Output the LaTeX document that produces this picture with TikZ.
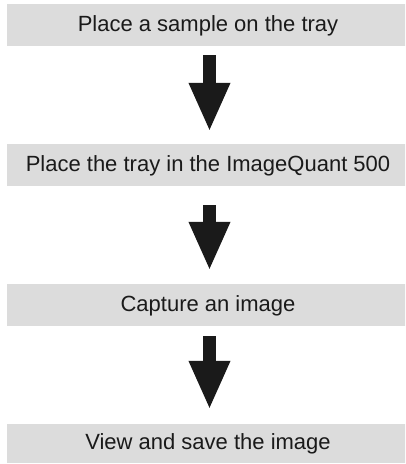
\documentclass[tikz,border=0pt]{standalone}
\usepackage{fontspec}
\setmainfont{Liberation Sans}
\usetikzlibrary{arrows.meta}
\definecolor{boxgrey}{HTML}{DCDCDC}
\definecolor{ink}{HTML}{1A1A1A}
\tikzset{
  stepbox/.style={fill=boxgrey, draw=none, inner sep=0pt, minimum width=402pt,
    text height=27pt, text depth=15pt, align=center, text=ink,
    font=\fontsize{22pt}{24pt}\selectfont},
  flowarrow/.style={draw=ink, line width=13pt,
    -{Triangle[width=38pt, length=49pt]}, shorten <=0pt}
}
\begin{document}
\begin{tikzpicture}[x=1pt,y=-1pt]
\useasboundingbox (0,0) rectangle (405,464);
\begin{scope}
\clip (0,0) rectangle (405,464);
\node[stepbox] (b1) at (208,25) {Place a sample on the tray};
\node[stepbox] (b2) at (208,165) {Place the tray in the ImageQuant 500};
\node[stepbox] (b3) at (208,305) {Capture an image};
\node[stepbox, text height=25.5pt, text depth=13.5pt] (b4) at (208,443.5) {View and save the image};
\end{scope}
\draw[flowarrow] ([xshift=1.5pt,yshift=-9pt]b1.south) -- ([xshift=1.5pt,yshift=12pt]b2.north);
\draw[flowarrow] ([xshift=1.5pt,yshift=-19pt]b2.south) -- ([xshift=1.5pt,yshift=13pt]b3.north);
\draw[flowarrow] ([xshift=1.5pt,yshift=-10pt]b3.south) -- ([xshift=1.5pt,yshift=14pt]b4.north);
\end{tikzpicture}
\end{document}
